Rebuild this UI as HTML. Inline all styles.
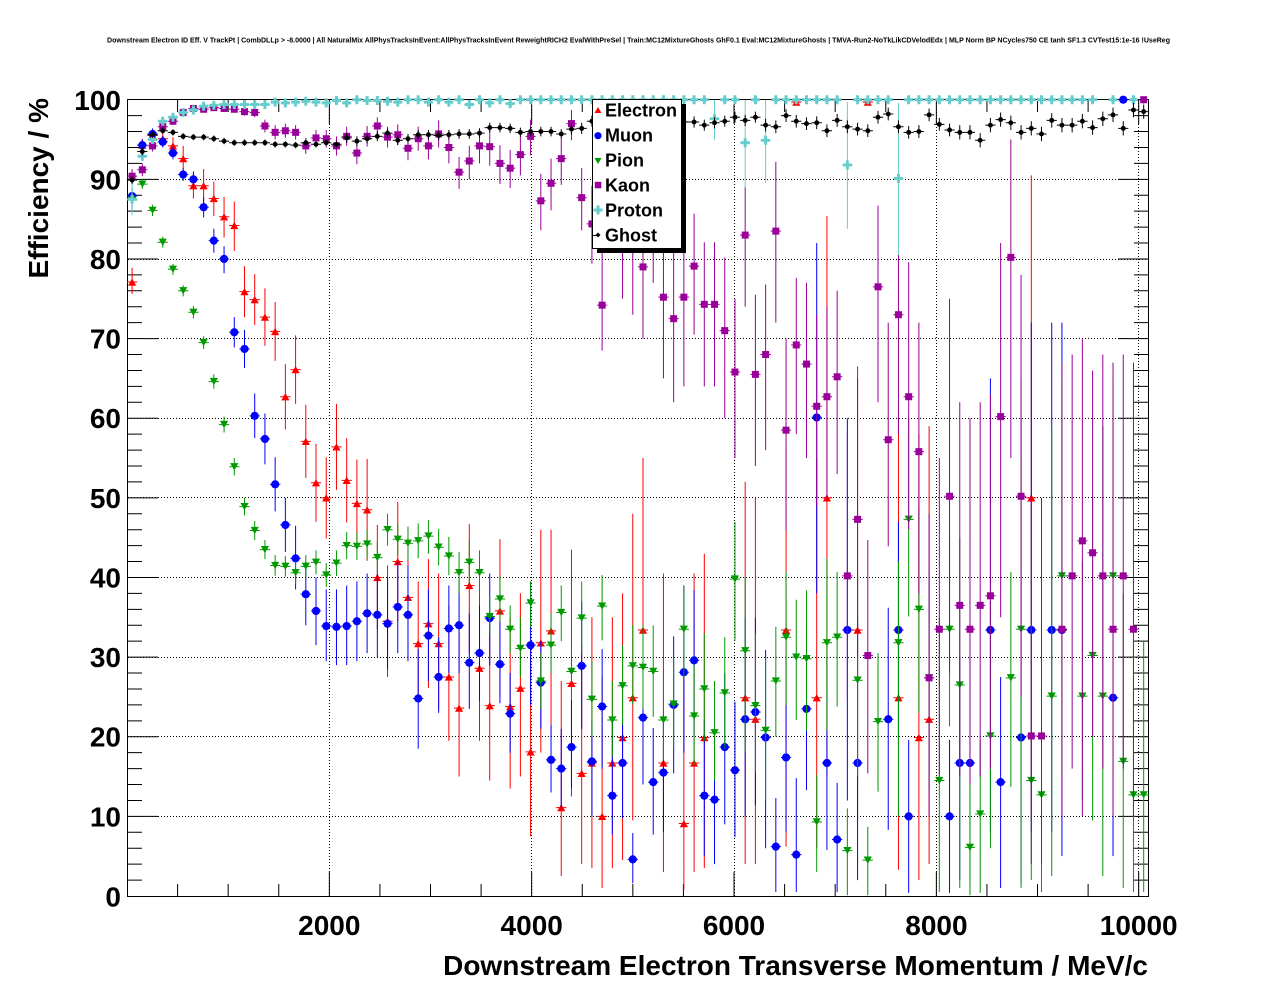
<!DOCTYPE html>
<html><head><meta charset="utf-8"><style>html,body{margin:0;padding:0;background:#fff}svg{display:block}</style></head>
<body>
<svg xmlns="http://www.w3.org/2000/svg" width="1276" height="996" viewBox="0 0 1276 996" font-family="'Liberation Sans', Arial, sans-serif" font-weight="bold">
<defs>
<polygon id="mT" points="-0.4,-0.46 0.4,-0.46 0,0.46"/>
<polygon id="mD" points="-0.4,0.46 0.4,0.46 0,-0.46"/>
<ellipse id="mC" rx="0.4" ry="0.515"/>
<rect id="mS" x="-0.34" y="-0.44" width="0.68" height="0.88"/>
<polygon id="mX" points="-0.147,0.565 0.147,0.565 0.147,0.188 0.44,0.188 0.44,-0.188 0.147,-0.188 0.147,-0.565 -0.147,-0.565 -0.147,-0.188 -0.44,-0.188 -0.44,0.188 -0.147,0.188"/>
<ellipse id="mG" rx="0.24" ry="0.31"/>
<clipPath id="c" clipPathUnits="userSpaceOnUse"><rect x="-0.5" y="0" width="100" height="100"/></clipPath>
</defs>
<rect width="1276" height="996" fill="#fff"/>
<text x="107" y="42.7" font-size="7.5" textLength="1063" lengthAdjust="spacingAndGlyphs">Downstream Electron ID Eff. V TrackPt | CombDLLp &gt; -8.0000 | All NaturalMix AllPhysTracksInEvent:AllPhysTracksInEvent ReweightRICH2 EvalWithPreSel | Train:MC12MixtureGhosts GhF0.1 Eval:MC12MixtureGhosts | TMVA-Run2-NoTkLikCDVelodEdx | MLP Norm BP NCycles750 CE tanh SF1.3 CVTest15:1e-16 !UseReg</text>

<!-- grid -->
<g stroke="#000" stroke-width="1" stroke-dasharray="1 2" fill="none">
<path d="M128 816.5H1148M128 736.5H1148M128 657.5H1148M128 577.5H1148M128 497.5H1148M128 418.5H1148M128 338.5H1148M128 259.5H1148M128 179.5H1148"/>
<path d="M329.5 100V896M531.5 100V896M734.5 100V896M936.5 100V896M1138.5 100V896"/>
</g>

<!-- ticks -->
<g transform="translate(0,896) scale(1,-7.963)">
<path fill="none" stroke="#000" vector-effect="non-scaling-stroke" d="M127 2h15M127 4h15M127 6h15M127 8h15M127 10h31M127 12h15M127 14h15M127 16h15M127 18h15M127 20h31M127 22h15M127 24h15M127 26h15M127 28h15M127 30h31M127 32h15M127 34h15M127 36h15M127 38h15M127 40h31M127 42h15M127 44h15M127 46h15M127 48h15M127 50h31M127 52h15M127 54h15M127 56h15M127 58h15M127 60h31M127 62h15M127 64h15M127 66h15M127 68h15M127 70h31M127 72h15M127 74h15M127 76h15M127 78h15M127 80h31M127 82h15M127 84h15M127 86h15M127 88h15M127 90h31M127 92h15M127 94h15M127 96h15M127 98h15"/>
<path fill="none" stroke="#000" vector-effect="non-scaling-stroke" d="M1149 2h-15M1149 4h-15M1149 6h-15M1149 8h-15M1149 10h-31M1149 12h-15M1149 14h-15M1149 16h-15M1149 18h-15M1149 20h-31M1149 22h-15M1149 24h-15M1149 26h-15M1149 28h-15M1149 30h-31M1149 32h-15M1149 34h-15M1149 36h-15M1149 38h-15M1149 40h-31M1149 42h-15M1149 44h-15M1149 46h-15M1149 48h-15M1149 50h-31M1149 52h-15M1149 54h-15M1149 56h-15M1149 58h-15M1149 60h-31M1149 62h-15M1149 64h-15M1149 66h-15M1149 68h-15M1149 70h-31M1149 72h-15M1149 74h-15M1149 76h-15M1149 78h-15M1149 80h-31M1149 82h-15M1149 84h-15M1149 86h-15M1149 88h-15M1149 90h-31M1149 92h-15M1149 94h-15M1149 96h-15M1149 98h-15"/>
</g>
<g transform="translate(127,0) scale(0.10117,1)">
<path fill="none" stroke="#000" vector-effect="non-scaling-stroke" d="M500 896v-12M1000 896v-12M1500 896v-12M2000 896v-24M2500 896v-12M3000 896v-12M3500 896v-12M4000 896v-24M4500 896v-12M5000 896v-12M5500 896v-12M6000 896v-24M6500 896v-12M7000 896v-12M7500 896v-12M8000 896v-24M8500 896v-12M9000 896v-12M9500 896v-12M10000 896v-24"/>
<path fill="none" stroke="#000" vector-effect="non-scaling-stroke" d="M500 100v12M1000 100v12M1500 100v12M2000 100v24M2500 100v12M3000 100v12M3500 100v12M4000 100v24M4500 100v12M5000 100v12M5500 100v12M6000 100v24M6500 100v12M7000 100v12M7500 100v12M8000 100v24M8500 100v12M9000 100v12M9500 100v12M10000 100v24"/>
</g>

<rect x="127.5" y="99.5" width="1021" height="797" fill="none" stroke="#000" stroke-width="1"/>

<!-- tick labels -->
<g font-size="28" text-anchor="end" fill="#000">
<text x="121" y="110">100</text>
<text x="121" y="189.5">90</text>
<text x="121" y="269">80</text>
<text x="121" y="348.6">70</text>
<text x="121" y="428.2">60</text>
<text x="121" y="508">50</text>
<text x="121" y="587.5">40</text>
<text x="121" y="667.1">30</text>
<text x="121" y="746.7">20</text>
<text x="121" y="826.4">10</text>
<text x="121" y="906.5">0</text>
</g>
<g font-size="28" text-anchor="middle" fill="#000">
<text x="329.3" y="935">2000</text>
<text x="531.7" y="935">4000</text>
<text x="734" y="935">6000</text>
<text x="936.4" y="935">8000</text>
<text x="1138.7" y="935">10000</text>
</g>
<text x="1148" y="975" font-size="28" text-anchor="end">Downstream Electron Transverse Momentum / MeV/c</text>
<text transform="translate(48,98) rotate(-90)" font-size="28" text-anchor="end">Efficiency / %</text>

<!-- data -->
<g transform="translate(132.1 896) scale(10.218 -7.963)">
<g clip-path="url(#c)">
<path fill="none" stroke="#f00" stroke-width="1" vector-effect="non-scaling-stroke" d="M0 75.6V78.9M0 77.1h-.5h1M1 93.5V95.1M1 94.3h-.5h1M2 94.7V96.3M2 95.5h-.5h1M3 94.1V96.1M3 95.1h-.5h1M4 93.1V95.3M4 94.2h-.5h1M5 91V94.2M5 92.6h-.5h1M6 87.6V90.8M6 89.2h-.5h1M7 87V91.3M7 89.2h-.5h1M8 85.4V89.7M8 87.6h-.5h1M9 82.7V87.8M9 85.3h-.5h1M10 81V87.2M10 84.2h-.5h1M11 72.7V79.1M11 75.9h-.5h1M12 71.7V78.1M12 74.9h-.5h1M13 69.1V76.3M13 72.7h-.5h1M14 67.2V74.6M14 70.9h-.5h1M15 58.6V66.8M15 62.7h-.5h1M16 61.8V70.4M16 66.1h-.5h1M17 52.5V61.7M17 57.1h-.5h1M18 47V56.8M18 51.9h-.5h1M19 44.9V55.1M19 50h-.5h1M20 51V61.8M20 56.4h-.5h1M21 46.9V57.5M21 52.2h-.5h1M22 43.8V54.8M22 49.3h-.5h1M23 42.1V54.9M23 48.5h-.5h1M24 33.5V46.6M24 40h-.5h1M25 27.5V41.5M25 34.5h-.5h1M26 34.5V49.5M26 42h-.5h1M27 30V45M27 37.5h-.5h1M28 24.5V39.5M28 31.7h-.5h1M29 26.1V42.3M29 34.2h-.5h1M30 23.5V40.5M30 31.7h-.5h1M31 19.5V36.5M31 27.5h-.5h1M32 15V33M32 23.6h-.5h1M33 30.5V46.7M33 39h-.5h1M34 19.5V38.5M34 28.6h-.5h1M35 14.5V34.5M35 23.9h-.5h1M36 25V44.8M36 35.8h-.5h1M37 13.5V35M37 23.8h-.5h1M38 15V38M38 26.1h-.5h1M39 7.5V32M39 18.1h-.5h1M40 18V46M40 31.8h-.5h1M41 20V46M41 33.3h-.5h1M42 2.5V27M42 11.1h-.5h1M43 12.5V43.5M43 26.7h-.5h1M44 4V31.5M44 15.4h-.5h1M45 3.5V35M45 16.7h-.5h1M46 1V27.5M46 10h-.5h1M47 3.5V35M47 16.7h-.5h1M48 4.5V38M48 19.9h-.5h1M49 9.5V48M49 24.9h-.5h1M50 15V55M50 33.4h-.5h1M52 3V40.5M52 16.7h-.5h1M54 .8V28.5M54 9.1h-.5h1M55 3V40.5M55 16.7h-.5h1M56 3.5V43M56 19.9h-.5h1M60 4V52M60 24.9h-.5h1M61 4V50M61 22.2h-.5h1M64 6.2V56M64 33.4h-.5h1M65 99.5V100M65 99.7h-.5h1M67 6V55M67 24.9h-.5h1M68 15V85.4M68 50h-.5h1M71 9.5V66.5M71 33.4h-.5h1M72 99.5V100M72 99.7h-.5h1M75 3.3V60M75 24.9h-.5h1M77 2V58M77 19.9h-.5h1M78 4V59M78 22.2h-.5h1M88 9.5V90.5M88 50h-.5h1"/>
</g>
<g fill="#f00">
<use href="#mT" x="0" y="77.1"/><use href="#mT" x="1" y="94.3"/><use href="#mT" x="2" y="95.5"/><use href="#mT" x="3" y="95.1"/><use href="#mT" x="4" y="94.2"/><use href="#mT" x="5" y="92.6"/><use href="#mT" x="6" y="89.2"/><use href="#mT" x="7" y="89.2"/><use href="#mT" x="8" y="87.6"/><use href="#mT" x="9" y="85.3"/><use href="#mT" x="10" y="84.2"/><use href="#mT" x="11" y="75.9"/><use href="#mT" x="12" y="74.9"/><use href="#mT" x="13" y="72.7"/><use href="#mT" x="14" y="70.9"/><use href="#mT" x="15" y="62.7"/><use href="#mT" x="16" y="66.1"/><use href="#mT" x="17" y="57.1"/><use href="#mT" x="18" y="51.9"/><use href="#mT" x="19" y="50"/><use href="#mT" x="20" y="56.4"/><use href="#mT" x="21" y="52.2"/><use href="#mT" x="22" y="49.3"/><use href="#mT" x="23" y="48.5"/><use href="#mT" x="24" y="40"/><use href="#mT" x="25" y="34.5"/><use href="#mT" x="26" y="42"/><use href="#mT" x="27" y="37.5"/><use href="#mT" x="28" y="31.7"/><use href="#mT" x="29" y="34.2"/><use href="#mT" x="30" y="31.7"/><use href="#mT" x="31" y="27.5"/><use href="#mT" x="32" y="23.6"/><use href="#mT" x="33" y="39"/><use href="#mT" x="34" y="28.6"/><use href="#mT" x="35" y="23.9"/><use href="#mT" x="36" y="35.8"/><use href="#mT" x="37" y="23.8"/><use href="#mT" x="38" y="26.1"/><use href="#mT" x="39" y="18.1"/><use href="#mT" x="40" y="31.8"/><use href="#mT" x="41" y="33.3"/><use href="#mT" x="42" y="11.1"/><use href="#mT" x="43" y="26.7"/><use href="#mT" x="44" y="15.4"/><use href="#mT" x="45" y="16.7"/><use href="#mT" x="46" y="10"/><use href="#mT" x="47" y="16.7"/><use href="#mT" x="48" y="19.9"/><use href="#mT" x="49" y="24.9"/><use href="#mT" x="50" y="33.4"/><use href="#mT" x="52" y="16.7"/><use href="#mT" x="54" y="9.1"/><use href="#mT" x="55" y="16.7"/><use href="#mT" x="56" y="19.9"/><use href="#mT" x="60" y="24.9"/><use href="#mT" x="61" y="22.2"/><use href="#mT" x="64" y="33.4"/><use href="#mT" x="65" y="99.7"/><use href="#mT" x="67" y="24.9"/><use href="#mT" x="68" y="50"/><use href="#mT" x="71" y="33.4"/><use href="#mT" x="72" y="99.7"/><use href="#mT" x="75" y="24.9"/><use href="#mT" x="77" y="19.9"/><use href="#mT" x="78" y="22.2"/><use href="#mT" x="88" y="50"/>
</g>

<g clip-path="url(#c)">
<path fill="none" stroke="#00f" stroke-width="1" vector-effect="non-scaling-stroke" d="M0 86V88.9M0 87.9h-.5h1M1 93.6V95M1 94.3h-.5h1M2 95V96.4M2 95.7h-.5h1M3 94V95.4M3 94.7h-.5h1M4 92.5V94.1M4 93.3h-.5h1M5 89.8V91.4M5 90.6h-.5h1M6 89V91M6 90h-.5h1M7 85.2V87.8M7 86.5h-.5h1M8 80.8V83.8M8 82.3h-.5h1M9 78.2V81.6M9 80h-.5h1M10 68.9V72.7M10 70.8h-.5h1M11 66.3V71.1M11 68.7h-.5h1M12 57.5V63.1M12 60.3h-.5h1M13 54.2V60.6M13 57.4h-.5h1M14 48.3V55.1M14 51.7h-.5h1M15 43.2V50M15 46.6h-.5h1M16 38.5V46.5M16 42.4h-.5h1M17 34V42M17 37.9h-.5h1M18 31.5V40M18 35.8h-.5h1M19 29.5V38.5M19 33.9h-.5h1M20 29V38.5M20 33.8h-.5h1M21 29V39M21 33.9h-.5h1M22 29.5V39.5M22 34.5h-.5h1M23 30.5V40.5M23 35.5h-.5h1M24 30V40.5M24 35.3h-.5h1M25 28.5V40M25 34.2h-.5h1M26 30.5V42M26 36.3h-.5h1M27 29.5V41.5M27 35.3h-.5h1M28 18.5V31M28 24.8h-.5h1M29 27V38.5M29 32.7h-.5h1M30 23V32.5M30 27.5h-.5h1M31 28V39M31 33.6h-.5h1M32 28V40M32 34h-.5h1M33 23.5V35.5M33 29.3h-.5h1M34 24.5V36.5M34 30.5h-.5h1M35 29V40.5M35 34.9h-.5h1M36 24.2V34.5M36 29.1h-.5h1M37 18V28M37 22.9h-.5h1M39 24V39.5M39 31.5h-.5h1M40 21V32M40 26.8h-.5h1M41 13V21.5M41 17.1h-.5h1M42 11V21M42 16h-.5h1M43 13.6V24.6M43 18.7h-.5h1M44 21V37M44 28.9h-.5h1M45 10V22M45 16.9h-.5h1M46 16V31M46 23.8h-.5h1M47 7.7V22.4M47 12.6h-.5h1M48 9.8V22.4M48 16.7h-.5h1M49 1.6V7.9M49 4.6h-.5h1M50 14V31M50 22.4h-.5h1M51 7.7V21.1M51 14.3h-.5h1M52 8V23M52 15.5h-.5h1M53 15.4V32.6M53 24h-.5h1M54 18V39M54 28.1h-.5h1M55 20V38.4M55 29.6h-.5h1M56 5V22M56 12.6h-.5h1M57 4V20.5M57 12.1h-.5h1M58 9V28M58 18.7h-.5h1M59 7.4V24.4M59 15.8h-.5h1M60 10V35M60 22.2h-.5h1M61 11.4V34.9M61 23.1h-.5h1M62 6V30.9M62 19.9h-.5h1M63 .5V12.3M63 6.2h-.5h1M64 8V30M64 17.4h-.5h1M65 .5V14.8M65 5.2h-.5h1M66 13.3V33.5M66 23.5h-.5h1M67 38V82M67 60.1h-.5h1M68 5.8V30M68 16.7h-.5h1M69 .5V14.2M69 7.1h-.5h1M70 12V60M70 33.4h-.5h1M71 2V35M71 16.7h-.5h1M74 8.3V36.2M74 22.2h-.5h1M75 19.6V47M75 33.4h-.5h1M76 .4V19.6M76 10h-.5h1M80 .4V19.6M80 10h-.5h1M81 2V30M81 16.7h-.5h1M82 2V30M82 16.7h-.5h1M84 8V65M84 33.4h-.5h1M85 1V27.5M85 14.3h-.5h1M87 1.5V60M87 19.9h-.5h1M88 8V72M88 33.4h-.5h1M90 8V72M90 33.4h-.5h1M91 5V72M91 33.4h-.5h1M96 5V60M96 24.9h-.5h1M97 100h-.5h1"/>
</g>
<g fill="#00f">
<use href="#mC" x="0" y="87.9"/><use href="#mC" x="1" y="94.3"/><use href="#mC" x="2" y="95.7"/><use href="#mC" x="3" y="94.7"/><use href="#mC" x="4" y="93.3"/><use href="#mC" x="5" y="90.6"/><use href="#mC" x="6" y="90"/><use href="#mC" x="7" y="86.5"/><use href="#mC" x="8" y="82.3"/><use href="#mC" x="9" y="80"/><use href="#mC" x="10" y="70.8"/><use href="#mC" x="11" y="68.7"/><use href="#mC" x="12" y="60.3"/><use href="#mC" x="13" y="57.4"/><use href="#mC" x="14" y="51.7"/><use href="#mC" x="15" y="46.6"/><use href="#mC" x="16" y="42.4"/><use href="#mC" x="17" y="37.9"/><use href="#mC" x="18" y="35.8"/><use href="#mC" x="19" y="33.9"/><use href="#mC" x="20" y="33.8"/><use href="#mC" x="21" y="33.9"/><use href="#mC" x="22" y="34.5"/><use href="#mC" x="23" y="35.5"/><use href="#mC" x="24" y="35.3"/><use href="#mC" x="25" y="34.2"/><use href="#mC" x="26" y="36.3"/><use href="#mC" x="27" y="35.3"/><use href="#mC" x="28" y="24.8"/><use href="#mC" x="29" y="32.7"/><use href="#mC" x="30" y="27.5"/><use href="#mC" x="31" y="33.6"/><use href="#mC" x="32" y="34"/><use href="#mC" x="33" y="29.3"/><use href="#mC" x="34" y="30.5"/><use href="#mC" x="35" y="34.9"/><use href="#mC" x="36" y="29.1"/><use href="#mC" x="37" y="22.9"/><use href="#mC" x="39" y="31.5"/><use href="#mC" x="40" y="26.8"/><use href="#mC" x="41" y="17.1"/><use href="#mC" x="42" y="16"/><use href="#mC" x="43" y="18.7"/><use href="#mC" x="44" y="28.9"/><use href="#mC" x="45" y="16.9"/><use href="#mC" x="46" y="23.8"/><use href="#mC" x="47" y="12.6"/><use href="#mC" x="48" y="16.7"/><use href="#mC" x="49" y="4.6"/><use href="#mC" x="50" y="22.4"/><use href="#mC" x="51" y="14.3"/><use href="#mC" x="52" y="15.5"/><use href="#mC" x="53" y="24"/><use href="#mC" x="54" y="28.1"/><use href="#mC" x="55" y="29.6"/><use href="#mC" x="56" y="12.6"/><use href="#mC" x="57" y="12.1"/><use href="#mC" x="58" y="18.7"/><use href="#mC" x="59" y="15.8"/><use href="#mC" x="60" y="22.2"/><use href="#mC" x="61" y="23.1"/><use href="#mC" x="62" y="19.9"/><use href="#mC" x="63" y="6.2"/><use href="#mC" x="64" y="17.4"/><use href="#mC" x="65" y="5.2"/><use href="#mC" x="66" y="23.5"/><use href="#mC" x="67" y="60.1"/><use href="#mC" x="68" y="16.7"/><use href="#mC" x="69" y="7.1"/><use href="#mC" x="70" y="33.4"/><use href="#mC" x="71" y="16.7"/><use href="#mC" x="74" y="22.2"/><use href="#mC" x="75" y="33.4"/><use href="#mC" x="76" y="10"/><use href="#mC" x="80" y="10"/><use href="#mC" x="81" y="16.7"/><use href="#mC" x="82" y="16.7"/><use href="#mC" x="84" y="33.4"/><use href="#mC" x="85" y="14.3"/><use href="#mC" x="87" y="19.9"/><use href="#mC" x="88" y="33.4"/><use href="#mC" x="90" y="33.4"/><use href="#mC" x="91" y="33.4"/><use href="#mC" x="96" y="24.9"/><use href="#mC" x="97" y="100"/>
</g>

<g clip-path="url(#c)">
<path fill="none" stroke="#009900" stroke-width="1" vector-effect="non-scaling-stroke" d="M0 86.6V88.2M0 87.4h-.5h1M1 88.8V90M1 89.4h-.5h1M2 85.4V86.8M2 86.1h-.5h1M3 81.4V82.8M3 82.1h-.5h1M4 78V79.4M4 78.7h-.5h1M5 75.3V76.7M5 76h-.5h1M6 72.5V74.1M6 73.3h-.5h1M7 68.7V70.3M7 69.5h-.5h1M8 63.7V65.5M8 64.6h-.5h1M9 58.2V60.2M9 59.2h-.5h1M10 52.8V55M10 53.9h-.5h1M11 47.8V50M11 48.9h-.5h1M12 44.7V47.1M12 45.9h-.5h1M13 42.3V44.7M13 43.5h-.5h1M14 40.2V42.8M14 41.5h-.5h1M15 40.1V42.7M15 41.4h-.5h1M16 39.2V42M16 40.6h-.5h1M17 40V42.8M17 41.4h-.5h1M18 40.4V43.4M18 41.9h-.5h1M19 38.8V41.8M19 40.3h-.5h1M20 40.2V43.4M20 41.8h-.5h1M21 42.3V45.7M21 44h-.5h1M22 42.2V45.6M22 43.9h-.5h1M23 42.4V46M23 44.2h-.5h1M24 40.6V44.4M24 42.5h-.5h1M25 44V48M25 46h-.5h1M26 42.8V46.8M26 44.8h-.5h1M27 42.2V46.4M27 44.3h-.5h1M28 42.4V46.8M28 44.6h-.5h1M29 43V47.2M29 45.2h-.5h1M30 41.5V46.1M30 43.8h-.5h1M31 40.3V45.1M31 42.7h-.5h1M32 38V43.2M32 40.6h-.5h1M33 39.2V44.6M33 41.9h-.5h1M34 37.8V43.4M34 40.6h-.5h1M35 32.8V37.6M35 35.1h-.5h1M36 34.5V40.1M36 37.3h-.5h1M37 30.5V36.5M37 33.5h-.5h1M38 27.5V35M38 31.1h-.5h1M39 33.8V39.5M39 36.8h-.5h1M40 23.5V30.5M40 27h-.5h1M41 28V35.5M41 31.5h-.5h1M42 32V39M42 35.6h-.5h1M43 24.6V31.1M43 28.2h-.5h1M44 30.5V39.5M44 34.9h-.5h1M45 20V29.5M45 24.7h-.5h1M46 32.1V40.3M46 36.4h-.5h1M47 17.5V27M47 22.1h-.5h1M48 21.5V31.5M48 26.4h-.5h1M49 24V34M49 28.9h-.5h1M50 23.5V34M50 28.7h-.5h1M51 22.5V34M51 28.2h-.5h1M52 17V28M52 22.1h-.5h1M53 18.5V30M53 24.1h-.5h1M54 27.5V38.9M54 33.5h-.5h1M55 16.5V29M55 22.6h-.5h1M56 19.5V33M56 26h-.5h1M57 14.5V27M57 20.5h-.5h1M58 18.5V32.5M58 25.5h-.5h1M59 32.1V47M59 39.8h-.5h1M60 18V40M60 30.8h-.5h1M61 15.5V33M61 23.9h-.5h1M62 12V30M62 20.8h-.5h1M63 20V33.8M63 27h-.5h1M64 24V40.7M64 32.5h-.5h1M65 22.1V37.2M65 30h-.5h1M66 20.8V38.4M66 29.8h-.5h1M67 3V15.2M67 9.3h-.5h1M68 20.8V42.4M68 31.8h-.5h1M69 23.8V40.7M69 32.5h-.5h1M70 .1V11M70 5.7h-.5h1M71 15V40M71 27.1h-.5h1M72 .1V8.7M72 4.5h-.5h1M73 13.1V30.5M73 21.9h-.5h1M75 10V42M75 31.8h-.5h1M76 35.1V60M76 47.3h-.5h1M77 23V48.7M77 36h-.5h1M78 13.7V40.7M78 27.4h-.5h1M79 .5V35M79 14.5h-.5h1M80 21.3V45.6M80 33.5h-.5h1M81 1V45M81 26.5h-.5h1M82 .1V14M82 6.1h-.5h1M83 .4V19.6M83 10.3h-.5h1M84 6V37M84 20.1h-.5h1M86 13.7V40.7M86 27.4h-.5h1M87 1V65M87 33.5h-.5h1M88 2V45M88 14.5h-.5h1M89 .5V35M89 12.7h-.5h1M90 2.5V59M90 25.1h-.5h1M91 15V65M91 40.2h-.5h1M93 12V42M93 25.1h-.5h1M94 9.5V50M94 30.2h-.5h1M95 2.5V59M95 25.1h-.5h1M96 15V65M96 40.2h-.5h1M97 1V38M97 16.9h-.5h1M98 .5V32M98 12.7h-.5h1M99 .5V32M99 12.7h-.5h1"/>
</g>
<g fill="#009900">
<use href="#mD" x="0" y="87.4"/><use href="#mD" x="1" y="89.4"/><use href="#mD" x="2" y="86.1"/><use href="#mD" x="3" y="82.1"/><use href="#mD" x="4" y="78.7"/><use href="#mD" x="5" y="76"/><use href="#mD" x="6" y="73.3"/><use href="#mD" x="7" y="69.5"/><use href="#mD" x="8" y="64.6"/><use href="#mD" x="9" y="59.2"/><use href="#mD" x="10" y="53.9"/><use href="#mD" x="11" y="48.9"/><use href="#mD" x="12" y="45.9"/><use href="#mD" x="13" y="43.5"/><use href="#mD" x="14" y="41.5"/><use href="#mD" x="15" y="41.4"/><use href="#mD" x="16" y="40.6"/><use href="#mD" x="17" y="41.4"/><use href="#mD" x="18" y="41.9"/><use href="#mD" x="19" y="40.3"/><use href="#mD" x="20" y="41.8"/><use href="#mD" x="21" y="44"/><use href="#mD" x="22" y="43.9"/><use href="#mD" x="23" y="44.2"/><use href="#mD" x="24" y="42.5"/><use href="#mD" x="25" y="46"/><use href="#mD" x="26" y="44.8"/><use href="#mD" x="27" y="44.3"/><use href="#mD" x="28" y="44.6"/><use href="#mD" x="29" y="45.2"/><use href="#mD" x="30" y="43.8"/><use href="#mD" x="31" y="42.7"/><use href="#mD" x="32" y="40.6"/><use href="#mD" x="33" y="41.9"/><use href="#mD" x="34" y="40.6"/><use href="#mD" x="35" y="35.1"/><use href="#mD" x="36" y="37.3"/><use href="#mD" x="37" y="33.5"/><use href="#mD" x="38" y="31.1"/><use href="#mD" x="39" y="36.8"/><use href="#mD" x="40" y="27"/><use href="#mD" x="41" y="31.5"/><use href="#mD" x="42" y="35.6"/><use href="#mD" x="43" y="28.2"/><use href="#mD" x="44" y="34.9"/><use href="#mD" x="45" y="24.7"/><use href="#mD" x="46" y="36.4"/><use href="#mD" x="47" y="22.1"/><use href="#mD" x="48" y="26.4"/><use href="#mD" x="49" y="28.9"/><use href="#mD" x="50" y="28.7"/><use href="#mD" x="51" y="28.2"/><use href="#mD" x="52" y="22.1"/><use href="#mD" x="53" y="24.1"/><use href="#mD" x="54" y="33.5"/><use href="#mD" x="55" y="22.6"/><use href="#mD" x="56" y="26"/><use href="#mD" x="57" y="20.5"/><use href="#mD" x="58" y="25.5"/><use href="#mD" x="59" y="39.8"/><use href="#mD" x="60" y="30.8"/><use href="#mD" x="61" y="23.9"/><use href="#mD" x="62" y="20.8"/><use href="#mD" x="63" y="27"/><use href="#mD" x="64" y="32.5"/><use href="#mD" x="65" y="30"/><use href="#mD" x="66" y="29.8"/><use href="#mD" x="67" y="9.3"/><use href="#mD" x="68" y="31.8"/><use href="#mD" x="69" y="32.5"/><use href="#mD" x="70" y="5.7"/><use href="#mD" x="71" y="27.1"/><use href="#mD" x="72" y="4.5"/><use href="#mD" x="73" y="21.9"/><use href="#mD" x="75" y="31.8"/><use href="#mD" x="76" y="47.3"/><use href="#mD" x="77" y="36"/><use href="#mD" x="78" y="27.4"/><use href="#mD" x="79" y="14.5"/><use href="#mD" x="80" y="33.5"/><use href="#mD" x="81" y="26.5"/><use href="#mD" x="82" y="6.1"/><use href="#mD" x="83" y="10.3"/><use href="#mD" x="84" y="20.1"/><use href="#mD" x="86" y="27.4"/><use href="#mD" x="87" y="33.5"/><use href="#mD" x="88" y="14.5"/><use href="#mD" x="89" y="12.7"/><use href="#mD" x="90" y="25.1"/><use href="#mD" x="91" y="40.2"/><use href="#mD" x="93" y="25.1"/><use href="#mD" x="94" y="30.2"/><use href="#mD" x="95" y="25.1"/><use href="#mD" x="96" y="40.2"/><use href="#mD" x="97" y="16.9"/><use href="#mD" x="98" y="12.7"/><use href="#mD" x="99" y="12.7"/>
</g>

<g clip-path="url(#c)">
<path fill="none" stroke="#990099" stroke-width="1" vector-effect="non-scaling-stroke" d="M0 89.5V91.3M0 90.4h-.5h1M1 90.4V92M1 91.2h-.5h1M2 93.5V94.9M2 94.2h-.5h1M3 96V97.2M3 96.6h-.5h1M4 96.8V97.8M4 97.3h-.5h1M5 98V98.8M5 98.4h-.5h1M6 98.5V99.3M6 98.9h-.5h1M7 98.4V99.2M7 98.8h-.5h1M8 98.6V99.4M8 99h-.5h1M9 98.5V99.3M9 98.9h-.5h1M10 98.4V99.2M10 98.8h-.5h1M11 98V99M11 98.5h-.5h1M12 97.8V99M12 98.4h-.5h1M13 95.9V97.5M13 96.7h-.5h1M14 95V96.8M14 95.9h-.5h1M15 95.2V97M15 96.1h-.5h1M16 95V96.8M16 95.9h-.5h1M17 93.2V95.2M17 94.2h-.5h1M18 94.2V96.2M18 95.2h-.5h1M19 94V96.2M19 95.1h-.5h1M20 93V95.4M20 94.2h-.5h1M21 94.2V96.6M21 95.4h-.5h1M22 91.9V94.7M22 93.3h-.5h1M23 94.1V96.7M23 95.4h-.5h1M24 95.6V97.8M24 96.7h-.5h1M25 94V96.6M25 95.3h-.5h1M26 94.3V96.9M26 95.6h-.5h1M27 92.4V95.4M27 93.9h-.5h1M28 93.6V96.6M28 95.1h-.5h1M29 92.5V95.9M29 94.2h-.5h1M30 94V97.4M30 95.7h-.5h1M31 92V96M31 94h-.5h1M32 88.8V92.8M32 90.9h-.5h1M33 90V94.2M33 92.3h-.5h1M34 92V96.4M34 94.2h-.5h1M35 91.7V96.4M35 94.1h-.5h1M36 89.4V94.3M36 92h-.5h1M37 88.9V93.7M37 91.4h-.5h1M38 90.5V95.3M38 93.1h-.5h1M39 93V97.5M39 95.4h-.5h1M40 83.6V90.7M40 87.3h-.5h1M41 86.1V92.6M41 89.5h-.5h1M42 89.3V95.1M42 92.6h-.5h1M43 94.9V98.7M43 97h-.5h1M44 83.6V91.4M44 87.7h-.5h1M45 79.4V89.2M45 84.4h-.5h1M46 68.5V81.2M46 74.2h-.5h1M47 81V94M47 88h-.5h1M48 75V92.5M48 85h-.5h1M49 73V91.5M49 83h-.5h1M50 70V87M50 79h-.5h1M51 77V93M51 86h-.5h1M52 65V84M52 75.2h-.5h1M53 62V82M53 72.5h-.5h1M54 64V84M54 75.2h-.5h1M55 70.5V85.7M55 79.1h-.5h1M56 64V82.1M56 74.3h-.5h1M57 64V82.1M57 74.3h-.5h1M58 60V80.2M58 71h-.5h1M59 55V75M59 65.8h-.5h1M60 74V89M60 83h-.5h1M61 54V75.5M61 65.5h-.5h1M62 56V76.8M62 68h-.5h1M63 72V92.2M63 83.5h-.5h1M64 46V70M64 58.5h-.5h1M65 58V77.6M65 69.2h-.5h1M66 55V77M66 66.8h-.5h1M67 49V73M67 61.5h-.5h1M68 50V74M68 62.7h-.5h1M69 53V76M69 65.2h-.5h1M70 24.6V58M70 40.2h-.5h1M71 30V65M71 47.3h-.5h1M72 15.4V44.7M72 30.2h-.5h1M73 62V86.7M73 76.5h-.5h1M74 43.9V72M74 57.3h-.5h1M75 58V80.5M75 73h-.5h1M76 46V79.6M76 62.7h-.5h1M77 38V72M77 55.8h-.5h1M78 10V48M78 27.4h-.5h1M79 15V55M79 33.5h-.5h1M80 28V75M80 50.2h-.5h1M81 15V62M81 36.5h-.5h1M82 14V60M82 33.5h-.5h1M83 15V62M83 36.5h-.5h1M84 16V63M84 37.7h-.5h1M85 35V82M85 60.2h-.5h1M86 55V95M86 80.2h-.5h1M87 25V78M87 50.2h-.5h1M88 4V50M88 20.1h-.5h1M89 4V50M89 20.1h-.5h1M91 10V67M91 33.5h-.5h1M92 16V68M92 40.2h-.5h1M93 10V70M93 44.6h-.5h1M94 20V66M94 43.1h-.5h1M95 16V68M95 40.2h-.5h1M96 10V67M96 33.5h-.5h1M97 16V68M97 40.2h-.5h1M98 10V67M98 33.5h-.5h1M99 99.5V100M99 100h-.5h1"/>
</g>
<g fill="#990099">
<use href="#mS" x="0" y="90.4"/><use href="#mS" x="1" y="91.2"/><use href="#mS" x="2" y="94.2"/><use href="#mS" x="3" y="96.6"/><use href="#mS" x="4" y="97.3"/><use href="#mS" x="5" y="98.4"/><use href="#mS" x="6" y="98.9"/><use href="#mS" x="7" y="98.8"/><use href="#mS" x="8" y="99"/><use href="#mS" x="9" y="98.9"/><use href="#mS" x="10" y="98.8"/><use href="#mS" x="11" y="98.5"/><use href="#mS" x="12" y="98.4"/><use href="#mS" x="13" y="96.7"/><use href="#mS" x="14" y="95.9"/><use href="#mS" x="15" y="96.1"/><use href="#mS" x="16" y="95.9"/><use href="#mS" x="17" y="94.2"/><use href="#mS" x="18" y="95.2"/><use href="#mS" x="19" y="95.1"/><use href="#mS" x="20" y="94.2"/><use href="#mS" x="21" y="95.4"/><use href="#mS" x="22" y="93.3"/><use href="#mS" x="23" y="95.4"/><use href="#mS" x="24" y="96.7"/><use href="#mS" x="25" y="95.3"/><use href="#mS" x="26" y="95.6"/><use href="#mS" x="27" y="93.9"/><use href="#mS" x="28" y="95.1"/><use href="#mS" x="29" y="94.2"/><use href="#mS" x="30" y="95.7"/><use href="#mS" x="31" y="94"/><use href="#mS" x="32" y="90.9"/><use href="#mS" x="33" y="92.3"/><use href="#mS" x="34" y="94.2"/><use href="#mS" x="35" y="94.1"/><use href="#mS" x="36" y="92"/><use href="#mS" x="37" y="91.4"/><use href="#mS" x="38" y="93.1"/><use href="#mS" x="39" y="95.4"/><use href="#mS" x="40" y="87.3"/><use href="#mS" x="41" y="89.5"/><use href="#mS" x="42" y="92.6"/><use href="#mS" x="43" y="97"/><use href="#mS" x="44" y="87.7"/><use href="#mS" x="45" y="84.4"/><use href="#mS" x="46" y="74.2"/><use href="#mS" x="47" y="88"/><use href="#mS" x="48" y="85"/><use href="#mS" x="49" y="83"/><use href="#mS" x="50" y="79"/><use href="#mS" x="51" y="86"/><use href="#mS" x="52" y="75.2"/><use href="#mS" x="53" y="72.5"/><use href="#mS" x="54" y="75.2"/><use href="#mS" x="55" y="79.1"/><use href="#mS" x="56" y="74.3"/><use href="#mS" x="57" y="74.3"/><use href="#mS" x="58" y="71"/><use href="#mS" x="59" y="65.8"/><use href="#mS" x="60" y="83"/><use href="#mS" x="61" y="65.5"/><use href="#mS" x="62" y="68"/><use href="#mS" x="63" y="83.5"/><use href="#mS" x="64" y="58.5"/><use href="#mS" x="65" y="69.2"/><use href="#mS" x="66" y="66.8"/><use href="#mS" x="67" y="61.5"/><use href="#mS" x="68" y="62.7"/><use href="#mS" x="69" y="65.2"/><use href="#mS" x="70" y="40.2"/><use href="#mS" x="71" y="47.3"/><use href="#mS" x="72" y="30.2"/><use href="#mS" x="73" y="76.5"/><use href="#mS" x="74" y="57.3"/><use href="#mS" x="75" y="73"/><use href="#mS" x="76" y="62.7"/><use href="#mS" x="77" y="55.8"/><use href="#mS" x="78" y="27.4"/><use href="#mS" x="79" y="33.5"/><use href="#mS" x="80" y="50.2"/><use href="#mS" x="81" y="36.5"/><use href="#mS" x="82" y="33.5"/><use href="#mS" x="83" y="36.5"/><use href="#mS" x="84" y="37.7"/><use href="#mS" x="85" y="60.2"/><use href="#mS" x="86" y="80.2"/><use href="#mS" x="87" y="50.2"/><use href="#mS" x="88" y="20.1"/><use href="#mS" x="89" y="20.1"/><use href="#mS" x="91" y="33.5"/><use href="#mS" x="92" y="40.2"/><use href="#mS" x="93" y="44.6"/><use href="#mS" x="94" y="43.1"/><use href="#mS" x="95" y="40.2"/><use href="#mS" x="96" y="33.5"/><use href="#mS" x="97" y="40.2"/><use href="#mS" x="98" y="33.5"/><use href="#mS" x="99" y="100"/>
</g>

<g clip-path="url(#c)">
<path fill="none" stroke="#66cccc" stroke-width="1" vector-effect="non-scaling-stroke" d="M0 85.5V89.5M0 87.5h-.5h1M1 92.3V93.5M1 92.9h-.5h1M2 94.5V95.5M2 95h-.5h1M3 96.9V97.7M3 97.3h-.5h1M4 97.8h-.5h1M5 98.4h-.5h1M6 98.7h-.5h1M7 99.2h-.5h1M8 99.3h-.5h1M9 99.4h-.5h1M10 99.4h-.5h1M11 99.4h-.5h1M12 99.4h-.5h1M13 99.4h-.5h1M33 99.4h-.5h1M37 99.5h-.5h1M57 95V100M57 97.6h-.5h1M60 89V100M60 94.6h-.5h1M62 89.6V100M62 94.9h-.5h1M70 83.8V99.7M70 91.8h-.5h1M75 80.5V99.6M75 90.1h-.5h1"/>
</g>
<g fill="#66cccc">
<use href="#mX" x="0" y="87.5"/><use href="#mX" x="1" y="92.9"/><use href="#mX" x="2" y="95"/><use href="#mX" x="3" y="97.3"/><use href="#mX" x="4" y="97.8"/><use href="#mX" x="5" y="98.4"/><use href="#mX" x="6" y="98.7"/><use href="#mX" x="7" y="99.2"/><use href="#mX" x="8" y="99.3"/><use href="#mX" x="9" y="99.4"/><use href="#mX" x="10" y="99.4"/><use href="#mX" x="11" y="99.4"/><use href="#mX" x="12" y="99.4"/><use href="#mX" x="13" y="99.4"/><use href="#mX" x="14" y="99.7"/><use href="#mX" x="15" y="99.6"/><use href="#mX" x="16" y="99.7"/><use href="#mX" x="17" y="99.8"/><use href="#mX" x="18" y="99.7"/><use href="#mX" x="19" y="99.6"/><use href="#mX" x="20" y="99.9"/><use href="#mX" x="21" y="99.6"/><use href="#mX" x="22" y="100"/><use href="#mX" x="23" y="99.9"/><use href="#mX" x="24" y="99.9"/><use href="#mX" x="25" y="99.8"/><use href="#mX" x="26" y="99.7"/><use href="#mX" x="27" y="100"/><use href="#mX" x="28" y="100"/><use href="#mX" x="29" y="99.7"/><use href="#mX" x="30" y="100"/><use href="#mX" x="31" y="99.7"/><use href="#mX" x="32" y="100"/><use href="#mX" x="33" y="99.4"/><use href="#mX" x="34" y="100"/><use href="#mX" x="35" y="99.6"/><use href="#mX" x="36" y="100"/><use href="#mX" x="37" y="99.5"/><use href="#mX" x="38" y="100"/><use href="#mX" x="39" y="100"/><use href="#mX" x="40" y="100"/><use href="#mX" x="41" y="100"/><use href="#mX" x="42" y="100"/><use href="#mX" x="43" y="100"/><use href="#mX" x="44" y="100"/><use href="#mX" x="45" y="100"/><use href="#mX" x="46" y="100"/><use href="#mX" x="47" y="100"/><use href="#mX" x="48" y="100"/><use href="#mX" x="49" y="100"/><use href="#mX" x="50" y="100"/><use href="#mX" x="51" y="100"/><use href="#mX" x="52" y="100"/><use href="#mX" x="53" y="100"/><use href="#mX" x="54" y="100"/><use href="#mX" x="55" y="100"/><use href="#mX" x="56" y="100"/><use href="#mX" x="57" y="97.6"/><use href="#mX" x="58" y="100"/><use href="#mX" x="59" y="100"/><use href="#mX" x="60" y="94.6"/><use href="#mX" x="61" y="100"/><use href="#mX" x="62" y="94.9"/><use href="#mX" x="63" y="100"/><use href="#mX" x="64" y="100"/><use href="#mX" x="65" y="100"/><use href="#mX" x="66" y="100"/><use href="#mX" x="67" y="100"/><use href="#mX" x="68" y="100"/><use href="#mX" x="69" y="100"/><use href="#mX" x="70" y="91.8"/><use href="#mX" x="71" y="100"/><use href="#mX" x="72" y="100"/><use href="#mX" x="73" y="100"/><use href="#mX" x="74" y="100"/><use href="#mX" x="75" y="90.1"/><use href="#mX" x="76" y="100"/><use href="#mX" x="77" y="100"/><use href="#mX" x="78" y="100"/><use href="#mX" x="79" y="100"/><use href="#mX" x="80" y="100"/><use href="#mX" x="81" y="100"/><use href="#mX" x="82" y="100"/><use href="#mX" x="83" y="100"/><use href="#mX" x="84" y="100"/><use href="#mX" x="85" y="100"/><use href="#mX" x="86" y="100"/><use href="#mX" x="87" y="100"/><use href="#mX" x="88" y="100"/><use href="#mX" x="89" y="100"/><use href="#mX" x="90" y="100"/><use href="#mX" x="91" y="100"/><use href="#mX" x="92" y="100"/><use href="#mX" x="93" y="100"/><use href="#mX" x="94" y="100"/><use href="#mX" x="96" y="100"/><use href="#mX" x="98" y="100"/>
</g>

<g clip-path="url(#c)">
<path fill="none" stroke="#000" stroke-width="1" vector-effect="non-scaling-stroke" d="M0 89.9v.5v-1m0 .5h-.5h1M1 93.5v.5v-1m0 .5h-.5h1M2 95.6v.4v-.8m0 .4h-.5h1M3 96.1v.4v-.8m0 .4h-.5h1M4 95.9v.4v-.8m0 .4h-.5h1M5 95.4v.4v-.8m0 .4h-.5h1M6 95.3v.4v-.8m0 .4h-.5h1M7 95.3v.4v-.8m0 .4h-.5h1M8 95.1v.4v-.8m0 .4h-.5h1M9 94.8v.4v-.8m0 .4h-.5h1M10 94.6v.4v-.8m0 .4h-.5h1M11 94.6v.4v-.8m0 .4h-.5h1M12 94.6v.4v-.8m0 .4h-.5h1M13 94.6v.4v-.8m0 .4h-.5h1M14 94.4v.4v-.8m0 .4h-.5h1M15 94.4v.4v-.8m0 .4h-.5h1M16 94.3v.4v-.8m0 .4h-.5h1M17 94.6v.4v-.8m0 .4h-.5h1M18 94.4v.4v-.8m0 .4h-.5h1M19 94.6v.4v-.8m0 .4h-.5h1M20 94.4v.4v-.8m0 .4h-.5h1M21 95.2v.6v-1.2m0 .6h-.5h1M22 94.8v.6v-1.2m0 .6h-.5h1M23 95.1v.6v-1.2m0 .6h-.5h1M24 95.4v.6v-1.2m0 .6h-.5h1M25 95.8v.6v-1.2m0 .6h-.5h1M26 94.9v.6v-1.2m0 .6h-.5h1M27 95.1v.6v-1.2m0 .6h-.5h1M28 95.6v.6v-1.2m0 .6h-.5h1M29 95.6v.6v-1.2m0 .6h-.5h1M30 95.5v.6v-1.2m0 .6h-.5h1M31 95.6v.6v-1.2m0 .6h-.5h1M32 95.7v.6v-1.2m0 .6h-.5h1M33 95.7v.6v-1.2m0 .6h-.5h1M34 95.8v.6v-1.2m0 .6h-.5h1M35 96.5v.6v-1.2m0 .6h-.5h1M36 96.5v.6v-1.2m0 .6h-.5h1M37 96.4v.6v-1.2m0 .6h-.5h1M38 95.9v.6v-1.2m0 .6h-.5h1M39 96v.6v-1.2m0 .6h-.5h1M40 96v.6v-1.2m0 .6h-.5h1M41 96v.6v-1.2m0 .6h-.5h1M42 95.7v.6v-1.2m0 .6h-.5h1M43 96.3v.7v-1.4m0 .7h-.5h1M44 96.4v.7v-1.4m0 .7h-.5h1M45 97.3v.7v-1.4m0 .7h-.5h1M46 97v.7v-1.4m0 .7h-.5h1M47 97v.7v-1.4m0 .7h-.5h1M48 97v.7v-1.4m0 .7h-.5h1M49 97v.7v-1.4m0 .7h-.5h1M50 97v.7v-1.4m0 .7h-.5h1M51 97v.7v-1.4m0 .7h-.5h1M52 97v.7v-1.4m0 .7h-.5h1M53 97v.7v-1.4m0 .7h-.5h1M54 97.2v.7v-1.4m0 .7h-.5h1M55 97.2v.7v-1.4m0 .7h-.5h1M56 96.8v.7v-1.4m0 .7h-.5h1M57 97.1v.7v-1.4m0 .7h-.5h1M58 97.3v.7v-1.4m0 .7h-.5h1M59 97.8v.7v-1.4m0 .7h-.5h1M60 97.4v.7v-1.4m0 .7h-.5h1M61 97.8v.7v-1.4m0 .7h-.5h1M62 96.8v.8v-1.6m0 .8h-.5h1M63 96.6v.8v-1.6m0 .8h-.5h1M64 98v.8v-1.6m0 .8h-.5h1M65 97.3v.8v-1.6m0 .8h-.5h1M66 97v.8v-1.6m0 .8h-.5h1M67 97.1v.8v-1.6m0 .8h-.5h1M68 96.1v.8v-1.6m0 .8h-.5h1M69 97.4v.8v-1.6m0 .8h-.5h1M70 96.6v.8v-1.6m0 .8h-.5h1M71 96.3v.8v-1.6m0 .8h-.5h1M72 96.1v.8v-1.6m0 .8h-.5h1M73 97.8v.8v-1.6m0 .8h-.5h1M74 98.2v.8v-1.6m0 .8h-.5h1M75 96.6v.8v-1.6m0 .8h-.5h1M76 95.9v.8v-1.6m0 .8h-.5h1M77 96v.8v-1.6m0 .8h-.5h1M78 98.1v.8v-1.6m0 .8h-.5h1M79 96.9v.8v-1.6m0 .8h-.5h1M80 96.2v.8v-1.6m0 .8h-.5h1M81 95.9v.9v-1.8m0 .9h-.5h1M82 95.9v.9v-1.8m0 .9h-.5h1M83 94.9v.9v-1.8m0 .9h-.5h1M84 96.8v.9v-1.8m0 .9h-.5h1M85 97.5v.9v-1.8m0 .9h-.5h1M86 97.1v.9v-1.8m0 .9h-.5h1M87 95.9v.9v-1.8m0 .9h-.5h1M88 96.4v.9v-1.8m0 .9h-.5h1M89 95.7v.9v-1.8m0 .9h-.5h1M90 97.4v.9v-1.8m0 .9h-.5h1M91 96.8v.9v-1.8m0 .9h-.5h1M92 96.8v.9v-1.8m0 .9h-.5h1M93 97.3v.9v-1.8m0 .9h-.5h1M94 96.5v.9v-1.8m0 .9h-.5h1M95 97.6v.9v-1.8m0 .9h-.5h1M96 98.1v.9v-1.8m0 .9h-.5h1M97 96.4v.9v-1.8m0 .9h-.5h1M98 98.7v.9v-1.8m0 .9h-.5h1M99 98.5v.9v-1.8m0 .9h-.5h1"/>
</g>
<g fill="#000">
<use href="#mG" x="0" y="89.9"/><use href="#mG" x="1" y="93.5"/><use href="#mG" x="2" y="95.6"/><use href="#mG" x="3" y="96.1"/><use href="#mG" x="4" y="95.9"/><use href="#mG" x="5" y="95.4"/><use href="#mG" x="6" y="95.3"/><use href="#mG" x="7" y="95.3"/><use href="#mG" x="8" y="95.1"/><use href="#mG" x="9" y="94.8"/><use href="#mG" x="10" y="94.6"/><use href="#mG" x="11" y="94.6"/><use href="#mG" x="12" y="94.6"/><use href="#mG" x="13" y="94.6"/><use href="#mG" x="14" y="94.4"/><use href="#mG" x="15" y="94.4"/><use href="#mG" x="16" y="94.3"/><use href="#mG" x="17" y="94.6"/><use href="#mG" x="18" y="94.4"/><use href="#mG" x="19" y="94.6"/><use href="#mG" x="20" y="94.4"/><use href="#mG" x="21" y="95.2"/><use href="#mG" x="22" y="94.8"/><use href="#mG" x="23" y="95.1"/><use href="#mG" x="24" y="95.4"/><use href="#mG" x="25" y="95.8"/><use href="#mG" x="26" y="94.9"/><use href="#mG" x="27" y="95.1"/><use href="#mG" x="28" y="95.6"/><use href="#mG" x="29" y="95.6"/><use href="#mG" x="30" y="95.5"/><use href="#mG" x="31" y="95.6"/><use href="#mG" x="32" y="95.7"/><use href="#mG" x="33" y="95.7"/><use href="#mG" x="34" y="95.8"/><use href="#mG" x="35" y="96.5"/><use href="#mG" x="36" y="96.5"/><use href="#mG" x="37" y="96.4"/><use href="#mG" x="38" y="95.9"/><use href="#mG" x="39" y="96"/><use href="#mG" x="40" y="96"/><use href="#mG" x="41" y="96"/><use href="#mG" x="42" y="95.7"/><use href="#mG" x="43" y="96.3"/><use href="#mG" x="44" y="96.4"/><use href="#mG" x="45" y="97.3"/><use href="#mG" x="46" y="97"/><use href="#mG" x="47" y="97"/><use href="#mG" x="48" y="97"/><use href="#mG" x="49" y="97"/><use href="#mG" x="50" y="97"/><use href="#mG" x="51" y="97"/><use href="#mG" x="52" y="97"/><use href="#mG" x="53" y="97"/><use href="#mG" x="54" y="97.2"/><use href="#mG" x="55" y="97.2"/><use href="#mG" x="56" y="96.8"/><use href="#mG" x="57" y="97.1"/><use href="#mG" x="58" y="97.3"/><use href="#mG" x="59" y="97.8"/><use href="#mG" x="60" y="97.4"/><use href="#mG" x="61" y="97.8"/><use href="#mG" x="62" y="96.8"/><use href="#mG" x="63" y="96.6"/><use href="#mG" x="64" y="98"/><use href="#mG" x="65" y="97.3"/><use href="#mG" x="66" y="97"/><use href="#mG" x="67" y="97.1"/><use href="#mG" x="68" y="96.1"/><use href="#mG" x="69" y="97.4"/><use href="#mG" x="70" y="96.6"/><use href="#mG" x="71" y="96.3"/><use href="#mG" x="72" y="96.1"/><use href="#mG" x="73" y="97.8"/><use href="#mG" x="74" y="98.2"/><use href="#mG" x="75" y="96.6"/><use href="#mG" x="76" y="95.9"/><use href="#mG" x="77" y="96"/><use href="#mG" x="78" y="98.1"/><use href="#mG" x="79" y="96.9"/><use href="#mG" x="80" y="96.2"/><use href="#mG" x="81" y="95.9"/><use href="#mG" x="82" y="95.9"/><use href="#mG" x="83" y="94.9"/><use href="#mG" x="84" y="96.8"/><use href="#mG" x="85" y="97.5"/><use href="#mG" x="86" y="97.1"/><use href="#mG" x="87" y="95.9"/><use href="#mG" x="88" y="96.4"/><use href="#mG" x="89" y="95.7"/><use href="#mG" x="90" y="97.4"/><use href="#mG" x="91" y="96.8"/><use href="#mG" x="92" y="96.8"/><use href="#mG" x="93" y="97.3"/><use href="#mG" x="94" y="96.5"/><use href="#mG" x="95" y="97.6"/><use href="#mG" x="96" y="98.1"/><use href="#mG" x="97" y="96.4"/><use href="#mG" x="98" y="98.7"/><use href="#mG" x="99" y="98.5"/>
</g>
</g>

<!-- legend -->
<rect x="597" y="104" width="89" height="149" fill="#000"/>
<rect x="592.5" y="99.5" width="89" height="149" fill="#fff" stroke="#000" stroke-width="1"/>
<polygon points="594.5,113 601.5,113 598,107" fill="#f00"/>
<circle cx="598" cy="135.7" r="3.6" fill="#00f"/>
<polygon points="594.5,158 601.5,158 598,164" fill="#009900"/>
<rect x="594.8" y="181.8" width="6.5" height="6.5" fill="#990099"/>
<rect x="593.5" y="208.5" width="9" height="3" fill="#66cccc"/><rect x="596.5" y="205.5" width="3" height="9" fill="#66cccc"/>
<polygon points="598,232.5 600.5,235 598,237.5 595.5,235" fill="#000"/><path d="M593 235.5h4" stroke="#000"/>
<g font-size="18" fill="#000">
<text x="605" y="116.5">Electron</text>
<text x="605" y="141.7">Muon</text>
<text x="605" y="166.7">Pion</text>
<text x="605" y="191.7">Kaon</text>
<text x="605" y="216.7">Proton</text>
<text x="605" y="241.7">Ghost</text>
</g>
</svg>
</body></html>
